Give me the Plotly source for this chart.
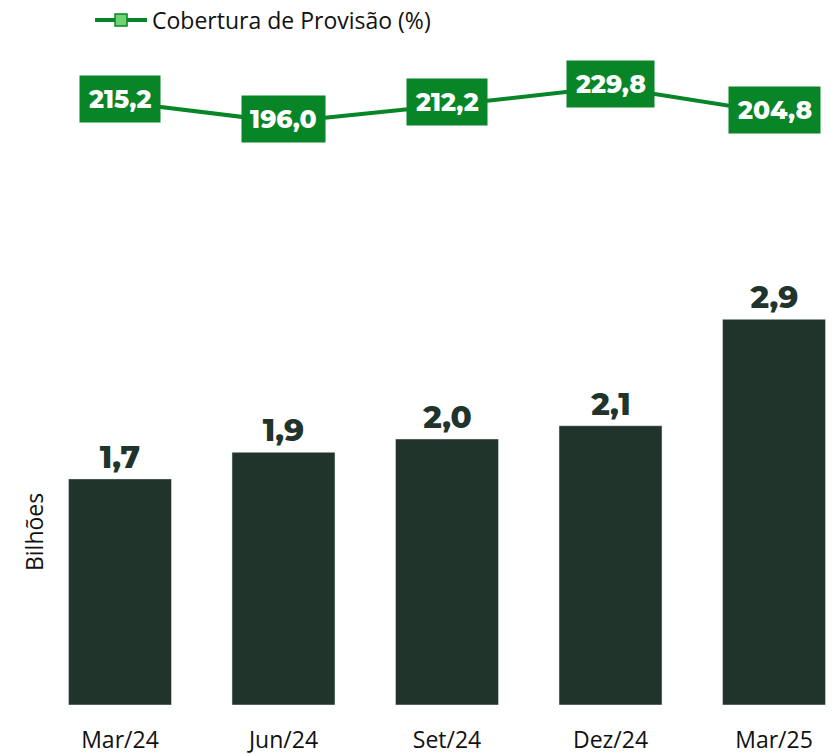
import plotly.graph_objects as go

categories = ["Mar/24", "Jun/24", "Set/24", "Dez/24", "Mar/25"]
carteira_bi = [1.7, 1.9, 2.0, 2.1, 2.9]
cobertura_pct = [215.2, 196.0, 212.2, 229.8, 204.8]

BAR = "#21342C"
GREEN = "#078527"

def br(v):
    return f"{v:.1f}".replace(".", ",")

xs = list(range(len(categories)))

fig = go.Figure()
fig.add_trace(go.Bar(
    x=xs, y=carteira_bi, width=0.63, marker_color=BAR,
    text=[br(v) for v in carteira_bi], textposition="outside",
    textfont=dict(family="Montserrat, Inter, sans-serif", size=31, color=BAR, weight=800),
    cliponaxis=False, showlegend=False, hoverinfo="skip",
))
fig.add_trace(go.Scatter(
    x=xs, y=cobertura_pct, yaxis="y2", mode="lines+markers",
    name="Cobertura de Provisão (%)",
    line=dict(color=GREEN, width=4),
    marker=dict(symbol="square", size=12, color="#6FD36F", line=dict(color=GREEN, width=1.5)),
    cliponaxis=False,
))
for x, v in zip(xs, cobertura_pct):
    fig.add_annotation(
        x=x, y=v, xref="x", yref="y2", text=br(v), showarrow=False,
        bgcolor=GREEN, borderpad=8, yshift=3,
        font=dict(family="Montserrat, Inter, sans-serif", size=25, color="white", weight=800),
    )
fig.add_annotation(
    x=-0.0204, y=0.26, xref="paper", yref="paper", text="Bilhões", showarrow=False,
    textangle=-90, xanchor="center", yanchor="middle",
    font=dict(family="Open Sans, Liberation Sans", size=23, color="#111"),
)

fig.update_layout(
    width=832, height=746,
    margin=dict(l=42, r=5, t=32, b=49, autoexpand=False),
    plot_bgcolor="white", paper_bgcolor="white",
    xaxis=dict(range=[-0.428, 4.373], tickvals=xs, ticktext=categories,
               showgrid=False, zeroline=False, showline=False, automargin=False,
               ticks="outside", ticklen=14, tickcolor="rgba(0,0,0,0)",
               tickfont=dict(family="Open Sans, Liberation Sans", size=23, color="#111")),
    yaxis=dict(range=[0, 5.0], visible=False, showgrid=False, automargin=False),
    yaxis2=dict(range=[-367.3, 275.2], overlaying="y", visible=False, showgrid=False, automargin=False),
    legend=dict(x=0.051, y=1.03, xref="paper", yref="paper", xanchor="left", yanchor="middle",
                font=dict(family="Open Sans, Liberation Sans", size=23, color="#111"),
                itemwidth=52, bgcolor="rgba(0,0,0,0)", tracegroupgap=0),
    showlegend=True,
)
fig.write_html("out.html")
